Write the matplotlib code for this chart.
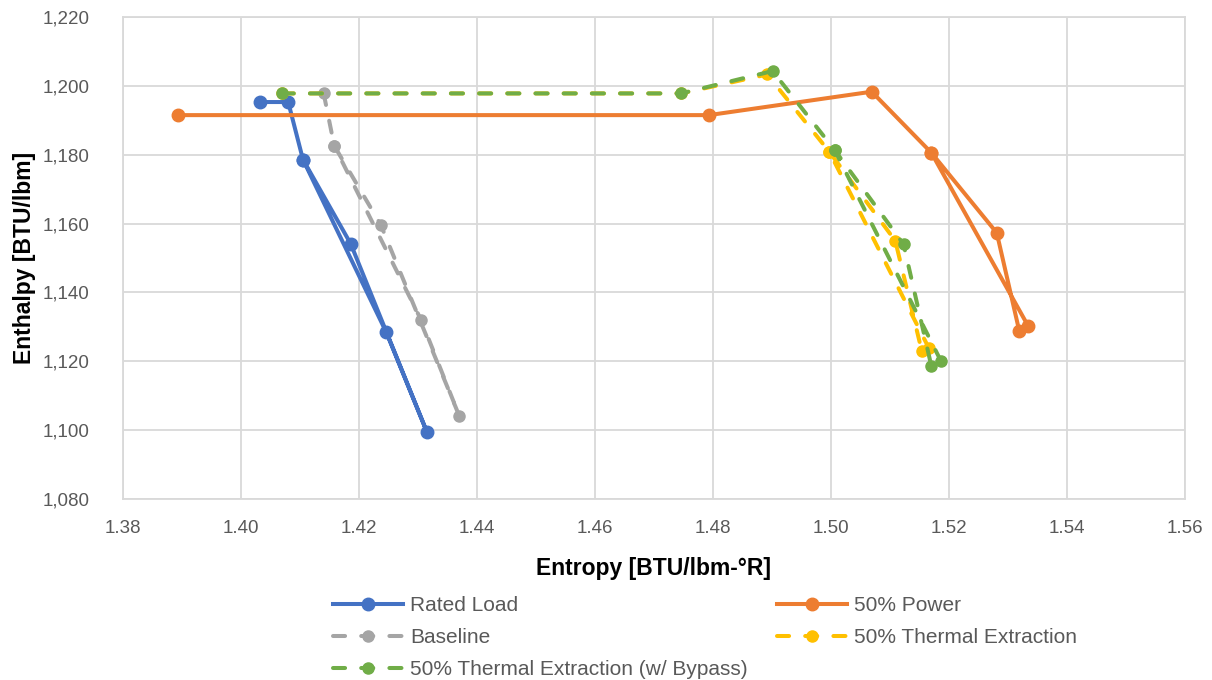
import numpy as np
import matplotlib
matplotlib.use('Agg')
import matplotlib.pyplot as plt

plt.rcParams['font.family'] = ['Liberation Sans', 'DejaVu Sans']

# values: entropy [BTU/lbm-R], enthalpy [BTU/lbm]
rated_s = [1.4033, 1.4080, 1.4105, 1.4186, 1.4315, 1.4246, 1.4105]
rated_h = [1195.3, 1195.3, 1178.6, 1154.1, 1099.5, 1128.5, 1178.6]

power_s = [1.3894, 1.4793, 1.5069, 1.5170, 1.5281, 1.5319, 1.5334, 1.5170]
power_h = [1191.5, 1191.5, 1198.3, 1180.6, 1157.3, 1128.9, 1130.3, 1180.6]

base_s = [1.4140, 1.4158, 1.4237, 1.4370, 1.4305, 1.4158]
base_h = [1197.9, 1182.6, 1159.6, 1104.1, 1132.1, 1182.6]

te_s = [1.4069, 1.4746, 1.4892, 1.4997, 1.5109, 1.5154, 1.5166, 1.4997]
te_h = [1197.8, 1197.8, 1203.3, 1180.9, 1155.0, 1122.9, 1123.8, 1180.9]

byp_s = [1.4069, 1.4746, 1.4901, 1.5006, 1.5123, 1.5170, 1.5186, 1.5006]
byp_h = [1197.8, 1197.8, 1204.3, 1181.4, 1154.0, 1118.7, 1120.2, 1181.4]

x_ticks = np.round(np.arange(1.38, 1.5601, 0.02), 2)
y_ticks = np.arange(1080, 1221, 20)

fig = plt.figure(figsize=(12.12, 6.8), dpi=100)
ax = fig.add_axes([0.1015, 0.2662, 0.8762, 0.7088])

lw = 2.9
# solid series
h_rated, = ax.plot(rated_s, rated_h, color='#4472C4', lw=lw, marker='o', ms=9,
                   solid_joinstyle='round', label='Rated Load')
h_power, = ax.plot(power_s, power_h, color='#ED7D31', lw=lw, marker='o', ms=9,
                   solid_joinstyle='round', label='50% Power')
# dashed series
dash_kw = dict(lw=lw, marker='o', ms=8, dashes=(3.0, 4), dash_capstyle='round')
h_base, = ax.plot(base_s, base_h, color='#A5A5A5', label='Baseline', **dash_kw)
h_te, = ax.plot(te_s, te_h, color='#FFC000', label='50% Thermal Extraction', **dash_kw)
h_byp, = ax.plot(byp_s, byp_h, color='#70AD47',
                 label='50% Thermal Extraction (w/ Bypass)', **dash_kw)

ax.set_xlim(1.38, 1.56)
ax.set_ylim(1080, 1220)
ax.set_xticks(x_ticks)
ax.set_yticks(y_ticks)
ax.set_xticklabels(['%.2f' % v for v in x_ticks])
ax.set_yticklabels(['{:,.0f}'.format(v) for v in y_ticks])
ax.tick_params(axis='both', length=0, labelsize=13.5, colors='#595959')
ax.tick_params(axis='y', pad=24)
ax.tick_params(axis='x', pad=15)
ax.grid(color='#D9D9D9', lw=1.3)
ax.set_axisbelow(True)
for sp in ax.spines.values():
    sp.set_color('#D9D9D9')
    sp.set_linewidth(1.3)

fig.text(654 / 1212, 1 - 569 / 680, 'Entropy [BTU/lbm-°R]', ha='center', va='center',
         fontsize=16.5, fontweight='bold')
fig.text(25 / 1212, 1 - 258 / 680, 'Enthalpy [BTU/lbm]', ha='center', va='center',
         rotation=90, fontsize=16.5, fontweight='bold')

handles = [h_rated, h_base, h_byp, h_power, h_te]
fig.legend(handles, [h.get_label() for h in handles], loc='upper left',
           bbox_to_anchor=(333 / 1212, 1 - 596 / 680), ncol=2, frameon=False,
           fontsize=15, handlelength=3.36, handletextpad=0.35, columnspacing=1.4,
           labelspacing=0.62, borderpad=0, borderaxespad=0, labelcolor='#595959')

fig.savefig('out.png', dpi=100)
